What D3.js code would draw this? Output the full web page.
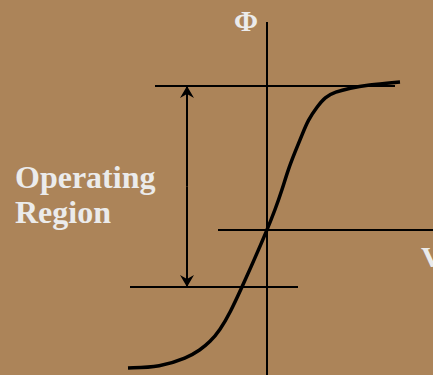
<!DOCTYPE html>
<html>
<meta charset="utf-8">
<style>
    body { margin: 0; background: #ac8459; }
    svg { display: block; }
    .lbl { font-family: 'Liberation Serif', 'Times New Roman', serif; font-weight: bold; fill: #ebebeb; }
</style>
<body>
<svg id="chart" width="433" height="375"></svg>
<script src="https://d3js.org/d3.v7.min.js"></script>
<script>
    // transfer curve Phi(V)
    const curveV   = [-13.9, -10.7, -8.0, -6.7, -5.7, -4.7, -3.7, -2.5, -1.2, 0, 0.8, 1.5, 2.1, 2.8, 3.5, 4.1, 5.0, 5.8, 6.8, 8.3, 10.0, 13.3];
    const curvePhi = [-13.8, -13.7, -12.8, -12.0, -11.2, -10.0, -8.3, -5.7, -2.8, 0, 2.0, 4.0, 6.0, 7.8, 9.5, 11.0, 12.3, 13.3, 13.8, 14.2, 14.5, 14.8];

    // axes extents
    const vAxis = [-4.9, 16.6];
    const phiAxis = [-14.5, 20.8];

    // operating region limits
    const regionTop = 14.4, regionBottom = -5.7;
    const topLineV = [-11.2, 12.8];
    const bottomLineV = [-13.7, 3.1];
    const arrowV = -8.0;

    const width = 433, height = 375;
    const chart = d3.select("#chart");

    const x = d3.scaleLinear().domain([-26.7, 16.6]).range([0, width]);
    const y = d3.scaleLinear().domain([23, -14.5]).range([0, height]);

    chart.append("rect").attr("width", width).attr("height", height).attr("fill", "#ac8459");

    const defs = chart.append("defs");
    defs.append("marker")
        .attr("id", "head")
        .attr("viewBox", "0 0 12 14")
        .attr("refX", 12).attr("refY", 7)
        .attr("markerWidth", 12).attr("markerHeight", 14)
        .attr("markerUnits", "userSpaceOnUse")
        .attr("orient", "auto")
        .append("path")
        .attr("d", "M0,0 L12,7 L0,14 L4,7 Z")
        .attr("fill", "#000");

    const line = (x1, y1, x2, y2, w) => chart.append("line")
        .attr("x1", x(x1)).attr("y1", y(y1))
        .attr("x2", x(x2)).attr("y2", y(y2))
        .attr("stroke", "#000").attr("stroke-width", w);

    // axes
    line(0, phiAxis[0], 0, phiAxis[1], 2);
    line(vAxis[0], 0, vAxis[1], 0, 2);

    // region limits
    line(topLineV[0], regionTop, topLineV[1], regionTop, 2);
    line(bottomLineV[0], regionBottom, bottomLineV[1], regionBottom, 2);

    // double arrow
    line(arrowV, (regionTop + regionBottom) / 2, arrowV, regionTop, 2).attr("marker-end", "url(#head)");
    line(arrowV, (regionTop + regionBottom) / 2, arrowV, regionBottom, 2).attr("marker-end", "url(#head)");

    // curve (basis spline smooths out reading noise)
    const pts = curveV.map((v, i) => [v, curvePhi[i]]);
    chart.append("path")
        .datum(pts)
        .attr("d", d3.line().x(d => x(d[0])).y(d => y(d[1])).curve(d3.curveBasis))
        .attr("fill", "none")
        .attr("stroke", "#000")
        .attr("stroke-width", 3.5);

    // labels
    chart.append("text").attr("class", "lbl").attr("x", 234).attr("y", 31)
        .style("font-size", "29px").text("Φ");
    chart.append("text").attr("class", "lbl").attr("x", 421).attr("y", 267)
        .style("font-size", "30px").text("V");
    chart.append("text").attr("class", "lbl").attr("x", 15).attr("y", 188)
        .style("font-size", "32px").text("Operating");
    chart.append("text").attr("class", "lbl").attr("x", 15).attr("y", 223)
        .style("font-size", "32px").text("Region");
</script>
</body>
</html>
